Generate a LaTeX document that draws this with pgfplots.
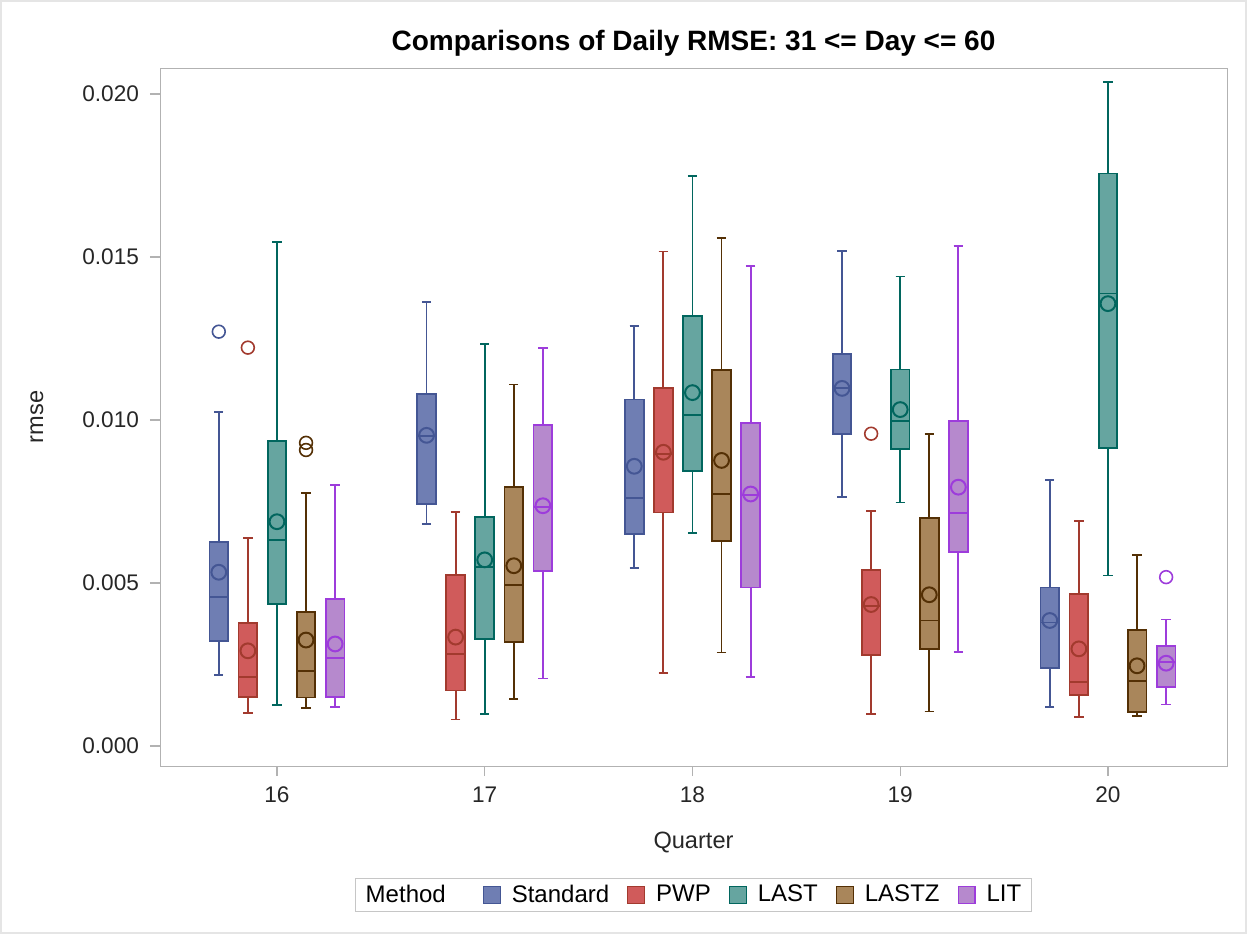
\documentclass[border=0pt]{standalone}
\usepackage{pgfplots}
\pgfplotsset{compat=1.18}
\usepgfplotslibrary{statistics}
\usepackage{fontspec}
\setmainfont{Liberation Sans}

\definecolor{c1f}{HTML}{6F7EB3}\definecolor{c1d}{HTML}{445694}
\definecolor{c2f}{HTML}{D05B5B}\definecolor{c2d}{HTML}{A23A2E}
\definecolor{c3f}{HTML}{66A5A0}\definecolor{c3d}{HTML}{01665E}
\definecolor{c4f}{HTML}{A9865B}\definecolor{c4d}{HTML}{543005}
\definecolor{c5f}{HTML}{B689CD}\definecolor{c5d}{HTML}{9D3CDB}

% values are rmse in thousandths (x 0.001)
% #1 colour prefix, #2 position, #3 lower whisker, #4 q1, #5 median, #6 q3, #7 upper whisker
\newcommand{\bx}[7]{%
  \addplot[forget plot, solid, draw=#1d, fill=#1f, line width=0.9pt,
    boxplot prepared={draw direction=y, draw position=#2, lower whisker=#3, lower quartile=#4,
      median=#5, upper quartile=#6, upper whisker=#7,
      box extend=0.09, whisker extend=0.045}] coordinates {};}

\begin{document}
\begin{tikzpicture}
\path[draw=gray!20, line width=0.8pt] (0.4pt,0.4pt) rectangle (623.1pt,466.6pt);
\begin{axis}[
  at={(80pt,84pt)}, anchor=south west,
  scale only axis, width=533.5pt, height=349pt,
  xmin=15.437, xmax=20.573, ymin=-0.614, ymax=20.798,
  axis line style={draw=gray!60},
  tick align=outside, tick pos=left,
  major tick length=5pt,
  every tick/.style={draw=gray!60, line width=0.6pt},
  xtick={16,17,18,19,20}, xticklabels={16,17,18,19,20},
  ytick={0,5,10,15,20},
  yticklabels={0.000,0.005,0.010,0.015,0.020},
  ticklabel style={font=\fontsize{11.3}{13}\selectfont, text=black!85},
  xticklabel style={yshift=-2pt},
  yticklabel style={xshift=-2pt},
  xlabel={Quarter}, ylabel={rmse},
  label style={font=\fontsize{11.8}{14}\selectfont, text=black!85},
  xlabel style={at={(axis description cs:0.5,-0.109)}, anchor=center},
  ylabel style={at={(axis description cs:-0.1153,0.5)}, anchor=center},
  title={Comparisons of Daily RMSE: 31 <= Day <= 60},
  title style={font=\fontsize{14}{16}\selectfont\bfseries, at={(axis description cs:0.5,1.0185)}, anchor=center, yshift=0pt},
  legend style={at={(axis description cs:0.5,-0.1605)}, anchor=north, draw=gray!45,
    legend columns=-1, font=\fontsize{12}{14}\selectfont, inner xsep=3pt, inner ysep=1.2pt,
    /tikz/every even column/.append style={column sep=7pt}},
  legend image code/.code={\draw[#1] (0pt,-4.2pt) rectangle (8.4pt,4.2pt); \path[draw=none, fill=none] (0pt,0pt) -- (12.2pt,0pt);},
]
% legend
\addlegendimage{empty legend}\addlegendentry{Method\kern9.5pt}
\addlegendimage{fill=c1f, draw=c1d, line width=0.6pt}\addlegendentry{Standard}
\addlegendimage{fill=c2f, draw=c2d, line width=0.6pt}\addlegendentry{PWP}
\addlegendimage{fill=c3f, draw=c3d, line width=0.6pt}\addlegendentry{LAST}
\addlegendimage{fill=c4f, draw=c4d, line width=0.6pt}\addlegendentry{LASTZ}
\addlegendimage{fill=c5f, draw=c5d, line width=0.6pt}\addlegendentry{LIT}

% Standard
\bx{c1}{15.72}{2.18}{3.23}{4.58}{6.25}{10.25}
\bx{c1}{16.72}{6.80}{7.43}{9.50}{10.80}{13.61}
\bx{c1}{17.72}{5.45}{6.51}{7.61}{10.63}{12.89}
\bx{c1}{18.72}{7.65}{9.58}{10.97}{12.02}{15.18}
\bx{c1}{19.72}{1.19}{2.39}{3.79}{4.86}{8.16}
% PWP
\bx{c2}{15.86}{1.02}{1.51}{2.11}{3.78}{6.39}
\bx{c2}{16.86}{0.81}{1.70}{2.82}{5.25}{7.18}
\bx{c2}{17.86}{2.23}{7.16}{8.95}{10.98}{15.17}
\bx{c2}{18.86}{0.98}{2.79}{4.30}{5.41}{7.21}
\bx{c2}{19.86}{0.89}{1.56}{1.96}{4.66}{6.90}
% LAST
\bx{c3}{16.00}{1.25}{4.36}{6.32}{9.36}{15.46}
\bx{c3}{17.00}{0.99}{3.28}{5.49}{7.03}{12.34}
\bx{c3}{18.00}{6.53}{8.44}{10.16}{13.20}{17.48}
\bx{c3}{19.00}{7.47}{9.10}{9.97}{11.55}{14.40}
\bx{c3}{20.00}{5.23}{9.13}{13.88}{17.56}{20.36}
% LASTZ
\bx{c4}{16.14}{1.16}{1.49}{2.31}{4.11}{7.77}
\bx{c4}{17.14}{1.43}{3.19}{4.94}{7.94}{11.09}
\bx{c4}{18.14}{2.87}{6.28}{7.73}{11.54}{15.59}
\bx{c4}{19.14}{1.06}{2.98}{3.85}{6.99}{9.56}
\bx{c4}{20.14}{0.92}{1.05}{2.00}{3.56}{5.87}
% LIT
\bx{c5}{16.28}{1.19}{1.51}{2.71}{4.51}{8.00}
\bx{c5}{17.28}{2.07}{5.37}{7.33}{9.84}{12.22}
\bx{c5}{18.28}{2.12}{4.86}{7.70}{9.92}{14.72}
\bx{c5}{19.28}{2.88}{5.94}{7.15}{9.97}{15.34}
\bx{c5}{20.28}{1.27}{1.80}{2.58}{3.06}{3.88}

% means
\addplot[forget plot, only marks, mark=o, mark size=3.7pt, mark options={draw=c1d, line width=1pt}]
  coordinates {(15.72,5.33) (16.72,9.53) (17.72,8.58) (18.72,10.97) (19.72,3.85)};
\addplot[forget plot, only marks, mark=o, mark size=3.7pt, mark options={draw=c2d, line width=1pt}]
  coordinates {(15.86,2.92) (16.86,3.34) (17.86,9.01) (18.86,4.34) (19.86,2.98)};
\addplot[forget plot, only marks, mark=o, mark size=3.7pt, mark options={draw=c3d, line width=1pt}]
  coordinates {(16,6.88) (17,5.71) (18,10.84) (19,10.32) (20,13.57)};
\addplot[forget plot, only marks, mark=o, mark size=3.7pt, mark options={draw=c4d, line width=1pt}]
  coordinates {(16.14,3.25) (17.14,5.53) (18.14,8.76) (19.14,4.64) (20.14,2.46)};
\addplot[forget plot, only marks, mark=o, mark size=3.7pt, mark options={draw=c5d, line width=1pt}]
  coordinates {(16.28,3.13) (17.28,7.37) (18.28,7.73) (19.28,7.94) (20.28,2.54)};

% outliers
\addplot[forget plot, only marks, mark=o, mark size=3.2pt, mark options={draw=c1d, line width=0.8pt}]
  coordinates {(15.72,12.71)};
\addplot[forget plot, only marks, mark=o, mark size=3.2pt, mark options={draw=c2d, line width=0.8pt}]
  coordinates {(15.86,12.22) (18.86,9.58)};
\addplot[forget plot, only marks, mark=o, mark size=3.2pt, mark options={draw=c4d, line width=0.8pt}]
  coordinates {(16.14,9.30) (16.14,9.08)};
\addplot[forget plot, only marks, mark=o, mark size=3.2pt, mark options={draw=c5d, line width=0.8pt}]
  coordinates {(20.28,5.18)};
\end{axis}
\end{tikzpicture}
\end{document}
